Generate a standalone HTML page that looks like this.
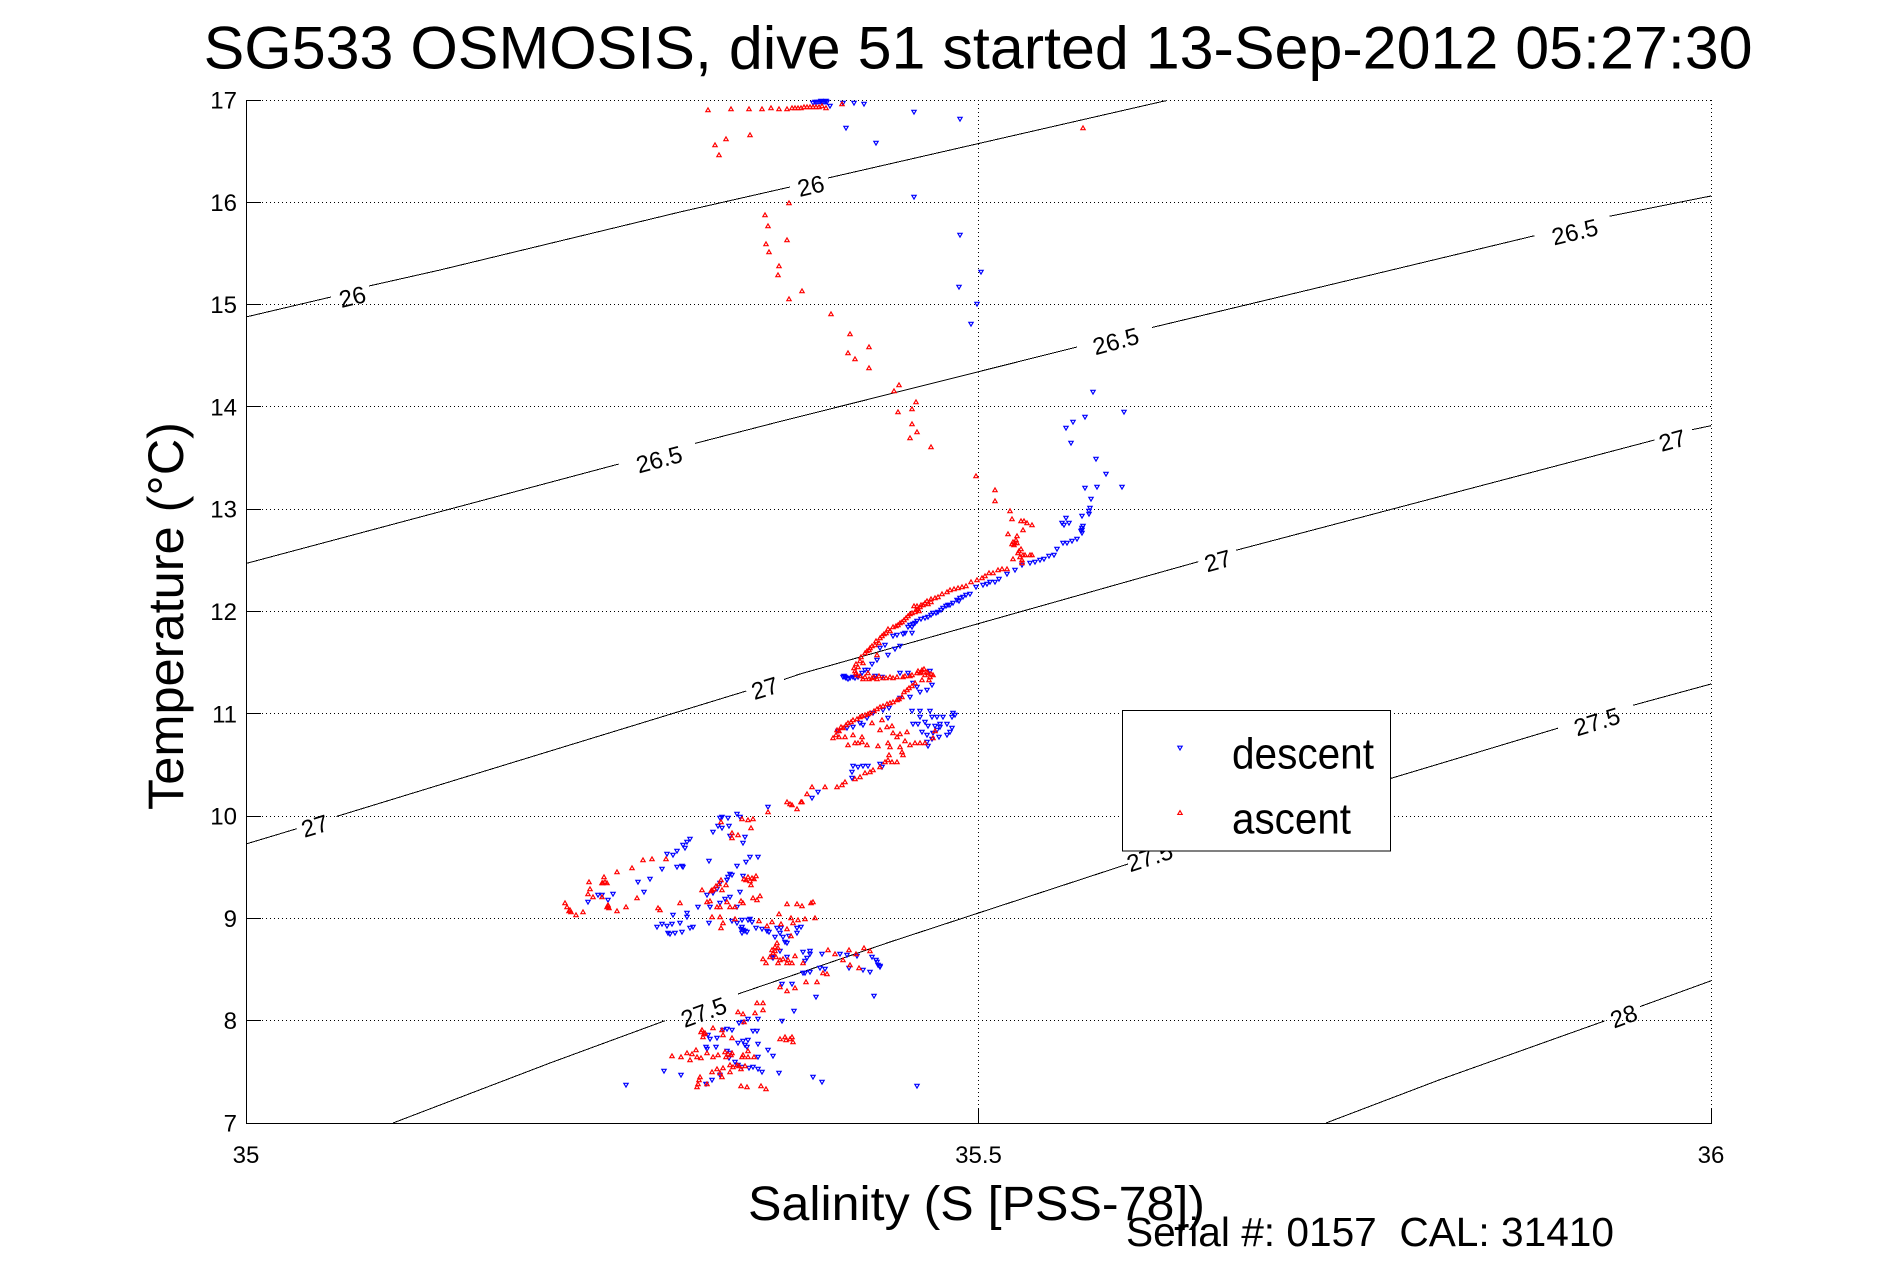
<!DOCTYPE html>
<html><head><meta charset="utf-8"><style>
html,body{margin:0;padding:0;background:#fff;}
svg{display:block;}
</style></head><body>
<svg xmlns="http://www.w3.org/2000/svg" width="1891" height="1262" viewBox="0 0 1891 1262" font-family="'Liberation Sans', Arial, Helvetica, sans-serif">
<defs>
<marker id="mr" markerUnits="userSpaceOnUse" markerWidth="10" markerHeight="10" refX="5" refY="5"><path d="M2.8,6.7H7.2L5,2.9Z" fill="none" stroke="#ff0000" stroke-width="1.15"/></marker>
<marker id="mb" markerUnits="userSpaceOnUse" markerWidth="10" markerHeight="10" refX="5" refY="5"><path d="M2.8,3.3H7.2L5,7.1Z" fill="none" stroke="#0000ff" stroke-width="1.15"/></marker>
</defs>
<rect width="1891" height="1262" fill="#fff"/>

<!-- title -->
<text x="203.6" y="68.3" font-size="60" textLength="1549" lengthAdjust="spacingAndGlyphs">SG533 OSMOSIS, dive 51 started 13-Sep-2012 05:27:30</text>

<!-- grid -->
<g stroke="#000" stroke-width="1" stroke-dasharray="1,3" fill="none" shape-rendering="crispEdges">
<line x1="246" y1="100.5" x2="1711" y2="100.5"/>
<line x1="246" y1="202.5" x2="1711" y2="202.5"/>
<line x1="246" y1="304.5" x2="1711" y2="304.5"/>
<line x1="246" y1="406.5" x2="1711" y2="406.5"/>
<line x1="246" y1="509.5" x2="1711" y2="509.5"/>
<line x1="246" y1="611.5" x2="1711" y2="611.5"/>
<line x1="246" y1="713.5" x2="1711" y2="713.5"/>
<line x1="246" y1="816.5" x2="1711" y2="816.5"/>
<line x1="246" y1="918.5" x2="1711" y2="918.5"/>
<line x1="246" y1="1020.5" x2="1711" y2="1020.5"/>
<line x1="978.5" y1="100" x2="978.5" y2="1123"/>
<line x1="1711.5" y1="100" x2="1711.5" y2="1123"/>
</g>

<!-- density contours -->
<g stroke="#000" stroke-width="1" fill="none" shape-rendering="crispEdges">
<polyline points="246,317 331,297"/>
<polyline points="369,286 440,270 680,212 790,187"/>
<polyline points="828,178 1160,102 1167,100.5"/>
<polyline points="246,563.5 618.8,464"/>
<polyline points="695,443.4 780,421.5 1077,347"/>
<polyline points="1152,327.5 1534.6,235.7"/>
<polyline points="1609.7,216.2 1711,196"/>
<polyline points="246,844 296.8,828.7"/>
<polyline points="336.4,816.5 746.2,691"/>
<polyline points="784,679.5 800,674 1140,578 1198.3,561.7"/>
<polyline points="1235.9,550.3 1654.5,440"/>
<polyline points="1692,429.7 1711,425.7"/>
<polyline points="393,1123 550,1063 665,1020.7"/>
<polyline points="738,994 890,942 1128,864"/>
<polyline points="1172,849 1391.5,778.2 1557.9,728.2"/>
<polyline points="1633,705.3 1711,684"/>
<polyline points="1326,1123 1439,1080 1604.4,1021"/>
<polyline points="1640,1006.6 1711,980.8"/>
</g>
<g font-size="24" text-anchor="middle" dominant-baseline="central" fill="#000">
<text transform="translate(352.6,297.6) rotate(-13.5)">26</text>
<text transform="translate(811,186.7) rotate(-13)">26</text>
<text transform="translate(659.4,460.2) rotate(-15)">26.5</text>
<text transform="translate(1116,342) rotate(-15)">26.5</text>
<text transform="translate(1575,232.8) rotate(-13.5)">26.5</text>
<text transform="translate(315,826.8) rotate(-17)">27</text>
<text transform="translate(765,689) rotate(-17)">27</text>
<text transform="translate(1218,561.7) rotate(-15.5)">27</text>
<text transform="translate(1672.4,441.2) rotate(-15)">27</text>
<text transform="translate(704,1013) rotate(-20)">27.5</text>
<text transform="translate(1150,858) rotate(-18)">27.5</text>
<text transform="translate(1597.2,722.5) rotate(-17)">27.5</text>
<text transform="translate(1624,1017) rotate(-20)">28</text>
</g>

<!-- descent (blue) -->
<polyline fill="none" stroke="none" marker-start="url(#mb)" marker-mid="url(#mb)" marker-end="url(#mb)" points="813,103 815,102 817,102 819,102 821,102 823,102 825,102 827,102 830,106 843,103 854,103 864,104 914,112 960,119 846,128 876,143 914,197 960,235 981,272 959,287 977,304 971,324 1093,392 1124,412 1085,417 1073,422 1066,428 1071,443 1096,459 1106,474 1085,488 1097,487 1122,487 1091,499 1090,508 1089,514 1082,516 1066,518 1069,523 1062,523 1064,525 1082,528 1082,533 1077,539 1072,541 1067,543 1063,543 1057,549 1054,555 1049,556 1044,559 1040,560 1035,562 1030,563 1022,565 1015,570 1007,574 999,579 995,582 990,582 987,584 983,585 976,587 970,594 966,595 963,597 959,601 953,603 948,605 943,608 938,612 933,613 928,617 921,619 913,624 908,627 912,633 903,634 893,636 900,646 895,649 888,655 885,645 880,648 877,660 872,664 865,670 843,677 845,677 848,679 853,677 858,677 875,676 882,677 900,673 908,673 930,671 932,685 927,690 920,692 917,687 913,683 910,697 900,698 889,708 883,710 873,713 867,718 860,723 853,727 847,728 838,731 888,718 863,725 912,711 920,711 930,711 920,717 925,722 932,717 937,717 943,717 953,713 955,715 952,717 913,724 918,724 928,726 935,726 940,724 947,724 952,728 950,732 947,735 940,727 937,730 933,733 927,735 932,739 927,742 928,746 939,737 922,732 853,766 858,767 863,766 868,766 880,764 882,767 852,772 852,778 818,792 812,798 768,807 737,814 740,817 728,818 720,818 722,817 718,826 722,828 729,826 713,832 730,836 745,837 743,843 690,839 687,842 683,845 685,848 677,851 673,855 667,854 758,857 750,857 746,862 737,866 709,861 677,867 682,866 683,867 662,869 650,879 638,882 644,892 613,894 608,900 602,895 598,895 588,902 730,874 728,877 727,880 732,875 743,876 720,883 717,889 713,893 707,895 740,892 730,897 725,899 720,903 710,907 698,907 737,907 673,915 687,913 687,917 657,927 662,924 667,926 672,924 680,923 668,933 670,934 675,933 682,932 690,928 693,927 709,923 732,921 737,923 742,920 750,919 742,927 743,930 742,933 747,932 752,922 756,928 762,929 767,931 769,932 777,928 781,928 775,937 780,933 783,937 785,942 787,943 789,936 797,928 797,933 801,927 772,957 773,958 780,951 787,957 803,952 810,951 810,954 807,958 805,961 822,954 840,954 847,955 857,956 872,957 877,962 878,965 880,967 870,972 863,970 849,968 820,968 825,969 803,973 805,973 810,972 782,984 792,984 816,997 874,996 794,1011 782,1021 758,1019 748,1019 739,1023 743,1022 753,1031 757,1031 723,1030 727,1029 732,1030 708,1035 710,1039 717,1038 716,1047 706,1047 707,1049 727,1051 730,1053 738,1043 743,1041 748,1040 745,1045 747,1047 758,1044 768,1050 773,1056 758,1057 729,1058 735,1062 738,1065 742,1067 749,1068 753,1067 758,1069 762,1072 720,1075 712,1080 706,1084 681,1075 664,1071 626,1085 779,1073 813,1077 822,1082 917,1086 844,676 846,678 850,678 855,678 910,625 912,627 915,623 957,600 960,598 1082,530 1081,531 862,673 868,670 897,635 905,633 950,605 946,606 941,610 936,613 931,615 925,618 917,621 741,929 745,931 748,920 880,966 876,960 1083,526 1089,511 821,101 826,101"/>

<!-- ascent (red) -->
<polyline fill="none" stroke="none" marker-start="url(#mr)" marker-mid="url(#mr)" marker-end="url(#mr)" points="708,110 731,109 749,109 762,109 771,108 779,109 787,109 792,108 795,108 798,108 801,108 804,107 807,107 810,107 813,107 816,107 819,107 822,106 826,108 842,104 715,145 726,139 719,155 750,135 1083,128 789,203 765,215 768,226 787,240 766,244 769,252 779,266 778,275 802,291 789,299 831,314 850,334 869,347 848,353 855,359 869,368 899,385 894,391 916,402 912,409 898,412 912,424 917,432 910,438 931,447 976,476 995,490 995,501 1010,511 1012,519 1021,521 1024,521 1027,523 1032,525 1008,534 1023,530 1017,536 1013,542 1012,544 1015,543 1017,543 1021,549 1018,553 1023,555 1032,555 1030,555 1013,559 1022,560 1022,563 998,570 1002,569 1007,569 989,573 982,578 977,580 971,582 966,586 962,587 958,588 954,589 947,592 942,594 938,597 931,599 927,601 923,605 920,607 918,609 915,612 910,614 906,618 902,622 898,625 893,627 888,629 886,633 882,636 879,643 875,645 870,648 867,651 877,655 863,663 858,667 855,671 857,675 865,677 868,673 872,678 877,679 883,678 890,677 897,677 903,677 910,676 917,673 922,670 927,672 925,675 930,677 933,675 920,673 915,683 907,690 902,697 897,700 890,703 883,706 877,709 870,713 865,715 860,717 853,720 848,723 843,728 837,730 845,737 833,738 839,737 853,735 862,737 872,723 882,720 880,730 887,727 892,726 893,733 900,734 907,732 897,737 848,745 855,743 858,743 862,742 867,745 878,746 888,743 890,747 900,747 905,741 910,745 915,743 920,743 925,743 935,731 933,738 902,752 903,755 889,755 888,760 885,762 892,762 897,762 880,767 873,770 870,772 865,773 860,777 855,779 845,782 842,785 837,787 825,787 812,787 807,794 802,802 787,802 792,805 790,804 797,809 801,802 768,812 742,819 748,820 753,819 751,828 732,833 738,835 732,838 721,822 652,859 643,860 666,859 632,868 617,872 604,877 602,883 607,883 589,882 590,889 588,894 593,897 602,897 608,905 609,908 607,907 565,903 567,907 570,910 571,912 569,911 576,915 583,912 617,911 626,907 637,898 658,908 660,910 680,903 702,890 711,891 712,890 721,880 726,885 722,890 744,879 748,877 752,878 756,876 751,885 707,902 710,901 717,907 720,907 727,902 730,907 735,907 741,901 743,903 753,898 757,900 760,896 712,917 720,917 721,928 723,923 735,919 759,921 767,926 772,922 779,914 781,924 787,904 797,904 802,906 811,903 813,902 791,918 793,923 798,920 805,919 815,918 787,929 791,936 777,943 775,947 778,948 773,953 770,957 763,959 766,963 778,963 783,959 795,956 787,963 792,963 803,963 828,950 835,954 843,960 849,950 856,954 864,948 870,951 850,965 859,968 823,973 827,974 806,982 817,982 780,987 787,991 795,988 757,1003 763,1003 738,1012 743,1014 755,1013 763,1010 744,1022 702,1030 705,1033 703,1037 704,1034 713,1028 723,1035 722,1030 732,1038 780,1039 785,1037 792,1037 793,1042 696,1050 687,1053 692,1054 697,1057 701,1058 672,1056 681,1057 707,1053 713,1057 718,1055 725,1052 726,1057 732,1053 742,1057 690,1060 730,1065 733,1067 737,1065 741,1069 743,1055 748,1051 748,1057 754,1057 717,1069 723,1068 730,1072 712,1072 720,1073 722,1077 700,1077 699,1080 698,1084 697,1087 707,1084 741,1086 747,1087 761,1086 766,1089 914,606 917,606 921,605 925,603 928,604 931,602 916,610 919,611 912,613 908,616 904,620 900,623 896,626 890,631 884,634 880,638 876,641 872,646 869,650 865,653 861,657 860,661 856,664 854,668 856,673 860,676 863,679 869,679 874,677 879,676 886,678 893,678 905,676 912,675 918,671 921,672 924,669 928,673 931,674 929,680 922,680 912,686 909,688 904,692 899,699 893,702 887,704 880,707 874,711 868,714 862,716 857,719 851,722 846,725 841,727 839,731 836,735 714,889 716,886 719,884 746,880 750,881 754,879 772,950 775,951 776,957 780,960 788,960 701,1032 786,1040 790,1039 728,1054 731,1055 739,1066 745,1066 603,883 605,882 608,906 1019,551 1020,557 1025,555 1016,540 1014,545 985,576 993,573 950,590 935,598"/>

<!-- axes -->
<g stroke="#000" stroke-width="1" fill="none" shape-rendering="crispEdges">
<line x1="246.5" y1="100" x2="246.5" y2="1124"/>
<line x1="246" y1="1123.5" x2="1712" y2="1123.5"/>
<line x1="246" y1="100.5" x2="261" y2="100.5"/>
<line x1="246" y1="202.5" x2="261" y2="202.5"/>
<line x1="246" y1="304.5" x2="261" y2="304.5"/>
<line x1="246" y1="406.5" x2="261" y2="406.5"/>
<line x1="246" y1="509.5" x2="261" y2="509.5"/>
<line x1="246" y1="611.5" x2="261" y2="611.5"/>
<line x1="246" y1="713.5" x2="261" y2="713.5"/>
<line x1="246" y1="816.5" x2="261" y2="816.5"/>
<line x1="246" y1="918.5" x2="261" y2="918.5"/>
<line x1="246" y1="1020.5" x2="261" y2="1020.5"/>
<line x1="978.5" y1="1123" x2="978.5" y2="1108"/>
<line x1="1711.5" y1="1123" x2="1711.5" y2="1108"/>
</g>

<!-- tick labels -->
<g font-size="24" fill="#000" text-anchor="end">
<text x="237" y="108.5">17</text>
<text x="237" y="211">16</text>
<text x="237" y="313">15</text>
<text x="237" y="415.5">14</text>
<text x="237" y="517.5">13</text>
<text x="237" y="620">12</text>
<text x="237" y="722.5">11</text>
<text x="237" y="824.5">10</text>
<text x="237" y="927">9</text>
<text x="237" y="1029">8</text>
<text x="237" y="1131.5">7</text>
</g>
<g font-size="24" fill="#000" text-anchor="middle">
<text x="246" y="1163">35</text>
<text x="978.5" y="1163">35.5</text>
<text x="1711" y="1163">36</text>
</g>

<!-- axis labels -->
<text transform="translate(183,810) rotate(-90)" font-size="50" textLength="388" lengthAdjust="spacingAndGlyphs">Temperature (°C)</text>
<text x="748" y="1220" font-size="48" textLength="457" lengthAdjust="spacingAndGlyphs">Salinity (S [PSS-78])</text>
<text x="1126" y="1246" font-size="41" textLength="488" lengthAdjust="spacingAndGlyphs" xml:space="preserve" style="white-space:pre">Serial #: 0157  CAL: 31410</text>

<!-- legend -->
<rect x="1122.5" y="710.5" width="268" height="140.5" fill="#fff" stroke="#000" stroke-width="1" shape-rendering="crispEdges"/>
<path d="M1177.8,746.2H1182.2L1180,750Z" fill="none" stroke="#0000ff" stroke-width="1.15"/>
<path d="M1177.8,814.4H1182.2L1180,810.6Z" fill="none" stroke="#ff0000" stroke-width="1.15"/>
<text x="1232" y="768.3" font-size="44" textLength="142" lengthAdjust="spacingAndGlyphs">descent</text>
<text x="1232" y="833.3" font-size="44" textLength="119" lengthAdjust="spacingAndGlyphs">ascent</text>
</svg>
</body></html>
